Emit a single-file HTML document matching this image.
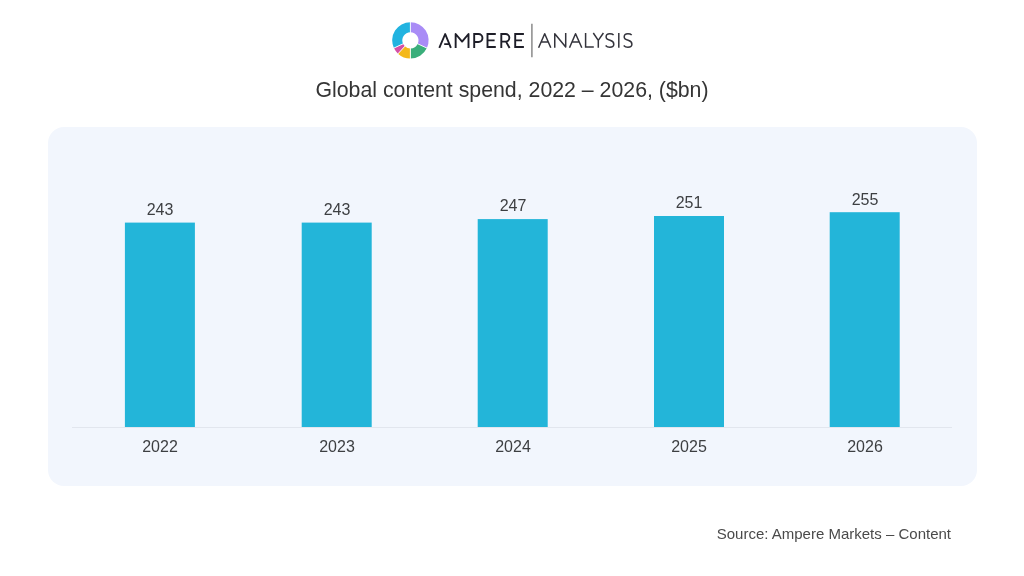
<!DOCTYPE html>
<html><head><meta charset="utf-8">
<style>
html,body{margin:0;padding:0;background:#fff;}
body{width:1024px;height:576px;position:relative;overflow:hidden;-webkit-font-smoothing:antialiased;font-family:"Liberation Sans",sans-serif;}
.abs{position:absolute;will-change:transform;}
.val,.yr{will-change:transform;}
#panel{left:48px;top:127px;width:929px;height:359px;background:#f2f6fd;border-radius:16px;}
#axis{left:72px;top:427px;width:880px;height:1px;background:#e2e6ee;}
.bar{position:absolute;width:70px;background:#23b5d9;}
.val{position:absolute;width:100px;text-align:center;font-size:16px;color:#3d3f42;line-height:15px;}
.yr{position:absolute;width:100px;text-align:center;font-size:16px;color:#3d3f42;line-height:15px;top:439px;}
#title{left:0;width:1024px;top:78px;text-align:center;font-size:21.3px;color:#353535;line-height:24px;}
#src{left:700px;width:251px;top:526px;text-align:right;font-size:15px;color:#4a4a4a;line-height:16px;}
</style></head>
<body>
<svg class="abs" style="left:0;top:0" width="1024" height="70" viewBox="0 0 1024 70">
<path d="M410.40 22.20A18.2 18.2 0 0 1 426.89 48.09L417.74 43.82A8.1 8.1 0 0 0 410.40 32.30Z" fill="#a98cf6"/>
<path d="M426.89 48.09A18.2 18.2 0 0 1 410.40 58.60L410.40 48.50A8.1 8.1 0 0 0 417.74 43.82Z" fill="#3aae7a"/>
<path d="M410.40 58.60A18.2 18.2 0 0 1 397.99 53.71L404.88 46.32A8.1 8.1 0 0 0 410.40 48.50Z" fill="#f4b81a"/>
<path d="M397.99 53.71A18.2 18.2 0 0 1 393.91 48.09L403.06 43.82A8.1 8.1 0 0 0 404.88 46.32Z" fill="#d44fa5"/>
<path d="M393.91 48.09A18.2 18.2 0 0 1 410.40 22.20L410.40 32.30A8.1 8.1 0 0 0 403.06 43.82Z" fill="#22b3e0"/>
<line x1="410.40" y1="33.30" x2="410.40" y2="21.20" stroke="#fff" stroke-width="0.9"/>
<line x1="416.83" y1="43.40" x2="427.80" y2="48.51" stroke="#fff" stroke-width="0.9"/>
<line x1="410.40" y1="47.50" x2="410.40" y2="59.60" stroke="#fff" stroke-width="0.9"/>
<line x1="405.56" y1="45.59" x2="397.31" y2="54.44" stroke="#fff" stroke-width="0.9"/>
<line x1="403.97" y1="43.40" x2="393.00" y2="48.51" stroke="#fff" stroke-width="0.9"/>

<g fill="none" stroke="#1e1e28" stroke-width="1.9" stroke-linejoin="miter" stroke-miterlimit="10">
<path stroke-linejoin="round" d="M439.3 47.95L445.2 34.0L450.9 47.95M444.2 44.1H449.3"/>
<path stroke-linejoin="round" d="M455.65 47.95V34.0L462.1 41.6L468.5 34.0V47.95"/>
<path d="M474.2 47.95V34.0H478.45A4 4 0 0 1 478.45 42H474.2"/>
<path d="M495.8 34.0H487.5V47.0H495.8M487.5 40.4H494.6"/>
<path d="M501.3 47.95V34.0H505.55A3.8 3.8 0 0 1 505.55 41.6H501.3M506 41.6L509.6 47.95"/>
<path d="M523.9 34.0H515.2V47.0H523.9M515.2 40.4H522"/>
</g>
<line x1="531.9" y1="23.7" x2="531.9" y2="57.3" stroke="#8a8a8a" stroke-width="1.5"/>
<g fill="none" stroke="#34343c" stroke-width="1.5" stroke-linejoin="round">
<path d="M538.6 47.7L544.7 33.75L550.8 47.7M541.1 42H548.3"/>
<path d="M554.75 47.7V33.8L565.7 46.9V33.0"/>
<path d="M569.5 47.7L575.55 33.75L581.8 47.7M572 42H579.2"/>
<path stroke-linejoin="miter" d="M585.6 33.0V47.0H593.8"/>
<path d="M593.3 33.0L598.3 40.4L603.4 33.0M598.3 40.4V47.7"/>
<path d="M613.6 35.0C612.6 34.0 611.2 33.75 609.8 33.75C607.6 33.75 606.1 35.0 606.1 36.9C606.1 38.8 607.8 39.6 610.1 40.3C612.5 41.1 613.8 42.2 613.8 44.2C613.8 46.1 612.1 47.15 609.8 47.15C607.8 47.15 606.5 46.4 605.6 45.4"/>
<path d="M618.8 33.0V47.7"/>
<path d="M631.7 35.0C630.7 34.0 629.3 33.75 627.9 33.75C625.7 33.75 624.2 35.0 624.2 36.9C624.2 38.8 625.9 39.6 628.2 40.3C630.6 41.1 631.9 42.2 631.9 44.2C631.9 46.1 630.2 47.15 627.9 47.15C625.9 47.15 624.6 46.4 623.7 45.4"/>
</g>
</svg>
<div id="title" class="abs">Global content spend, 2022 – 2026, ($bn)</div>
<div id="panel" class="abs"></div>
<div id="axis" class="abs"></div>
<svg class="abs" style="left:0;top:0" width="1024" height="576" viewBox="0 0 1024 576">
<rect x="124.9" y="222.6" width="70" height="204.4" fill="#23b5d9"/>
<rect x="301.7" y="222.6" width="70" height="204.4" fill="#23b5d9"/>
<rect x="477.7" y="219.1" width="70" height="207.9" fill="#23b5d9"/>
<rect x="654" y="216" width="70" height="211.0" fill="#23b5d9"/>
<rect x="829.7" y="212.2" width="70" height="214.8" fill="#23b5d9"/>
</svg>
<div class="val" style="left:110px;top:202px">243</div>
<div class="val" style="left:287px;top:202px">243</div>
<div class="val" style="left:463px;top:198px">247</div>
<div class="val" style="left:639px;top:195px">251</div>
<div class="val" style="left:815px;top:192px">255</div>
<div class="yr" style="left:110px">2022</div>
<div class="yr" style="left:287px">2023</div>
<div class="yr" style="left:463px">2024</div>
<div class="yr" style="left:639px">2025</div>
<div class="yr" style="left:815px">2026</div>
<div id="src" class="abs">Source: Ampere Markets – Content</div>
</body></html>
